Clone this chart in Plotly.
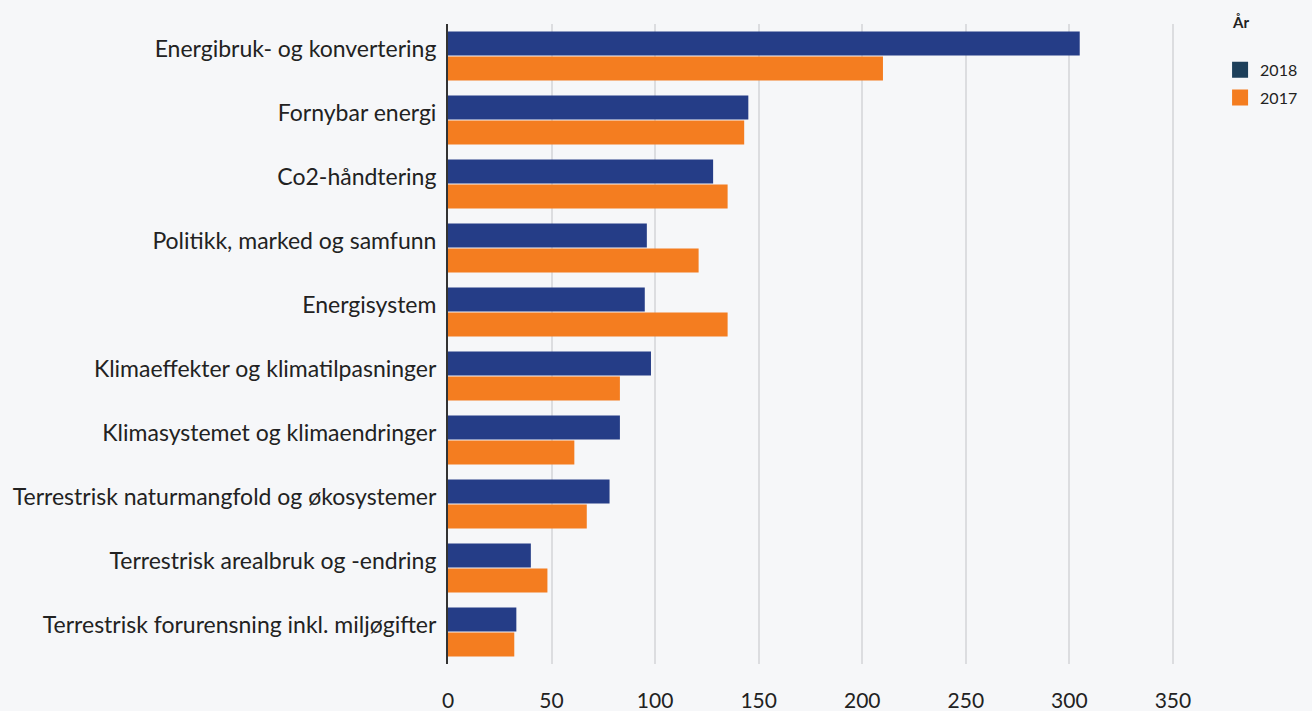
import plotly.graph_objects as go

categories = [
    "Energibruk- og konvertering",
    "Fornybar energi",
    "Co2-håndtering",
    "Politikk, marked og samfunn",
    "Energisystem",
    "Klimaeffekter og klimatilpasninger",
    "Klimasystemet og klimaendringer",
    "Terrestrisk naturmangfold og økosystemer",
    "Terrestrisk arealbruk og -endring",
    "Terrestrisk forurensning inkl. miljøgifter",
]
values_2018 = [305, 145, 128, 96, 95, 98, 83, 78, 40, 33]
values_2017 = [210, 143, 135, 121, 135, 83, 61, 67, 48, 32]
series_names = ["2018", "2017"]
x_ticks = [0, 50, 100, 150, 200, 250, 300, 350]
legend_title = "År"

BAR_2018 = "#253d87"
BAR_2017 = "#f47d20"
LEG_2018 = "#1d3f5a"
LEG_2017 = "#f47d20"
BG = "#f6f7f9"
FONT = "Lato"

fig = go.Figure()
fig.add_trace(go.Bar(y=categories, x=values_2018, orientation="h", name=series_names[0],
                     marker=dict(color=BAR_2018, line=dict(width=0)), showlegend=False))
fig.add_trace(go.Bar(y=categories, x=values_2017, orientation="h", name=series_names[1],
                     marker=dict(color=BAR_2017, line=dict(width=0)), showlegend=False))
for nm, col in zip(series_names, [LEG_2018, LEG_2017]):
    fig.add_trace(go.Scatter(x=[None], y=[None], mode="markers", name=nm, legendgroup=nm,
                             marker=dict(symbol="square", size=16, color=col)))

fig.update_layout(
    width=1312, height=711,
    paper_bgcolor=BG, plot_bgcolor=BG,
    margin=dict(l=448, r=137, t=24, b=47, autoexpand=False),
    barmode="group", bargap=0.22, bargroupgap=0.04,
    font=dict(family=FONT, color="#222222"),
    showlegend=True,
    legend=dict(x=1.062, xanchor="left", y=0.955, yanchor="top",
                font=dict(size=16, family=FONT, color="#222222"),
                bgcolor="rgba(0,0,0,0)", tracegroupgap=4, itemsizing="trace"),
    annotations=[dict(text="<b>" + legend_title + "</b>", x=1.0757, y=1.003, xref="paper", yref="paper",
                      xanchor="left", yanchor="middle", showarrow=False,
                      font=dict(size=15, family=FONT, color="#222222"))],
)
fig.update_xaxes(range=[0, 351], tickvals=x_ticks, showgrid=True, gridcolor="#dcdde0", gridwidth=1.5,
                 zeroline=False, showline=False, ticks="", ticklabelstandoff=22, automargin=False,
                 tickfont=dict(size=21, family=FONT, color="#222222"), fixedrange=True)
fig.update_yaxes(autorange="reversed", showline=True, linecolor="#333333", linewidth=2,
                 showgrid=False, ticks="", ticklabelstandoff=5, ticklabelshift=7, automargin=False,
                 tickfont=dict(size=23, family=FONT, color="#222222"), fixedrange=True)

fig.write_html("out.html", config={"displayModeBar": False},
               post_script="document.body.style.margin='0';document.body.style.overflow='hidden';")
